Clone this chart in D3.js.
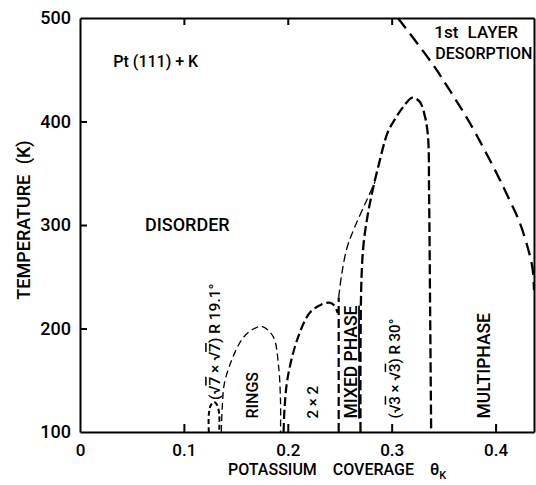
<!DOCTYPE html>
<html>
<head>
<meta charset="utf-8">
<script src="https://cdn.jsdelivr.net/npm/d3@7"></script>
<style>
  html, body { margin: 0; padding: 0; background: #fff; }
  svg { display: block; }
  text { font-family: Roboto, "Liberation Sans", sans-serif; font-weight: 500; fill: #000; }
</style>
</head>
<body>
<svg id="chart" width="536" height="485"></svg>
<script>
// Phase diagram of K on Pt(111): coverage on x, temperature on y.
const thetaTicks = [0, 0.1, 0.2, 0.3, 0.4];
const thetaTopTicks = [0.1, 0.2, 0.3];
const tempTicks = [100, 200, 300, 400, 500];

// (√7×√7)R19.1° pocket
const sqrt7Theta = [0.124, 0.124, 0.126, 0.129, 0.132, 0.134, 0.134];
const sqrt7T     = [100, 117, 126, 129, 126, 117, 100];

// Ring phase boundary (thin dashes)
const ringsTheta = [0.136, 0.137, 0.139, 0.147, 0.157, 0.166, 0.175, 0.186, 0.191, 0.193, 0.193];
const ringsT     = [100, 125, 147, 172, 191, 199, 202, 192, 165, 130, 100];

// 2×2 dome
const p2x2Theta = [0.196, 0.197, 0.200, 0.209, 0.221, 0.232, 0.240, 0.245, 0.248];
const p2x2T     = [100, 125, 153, 189, 215, 223, 225, 222, 215];

// Left edge of the mixed-phase region
const mixedLeftTheta = [0.249, 0.249];
const mixedLeftT     = [100, 230];

// Upper edge of the mixed-phase region (thin dashes)
const mixedTopTheta = [0.249, 0.252, 0.257, 0.264, 0.276, 0.284];
const mixedTopT     = [230, 253, 278, 297, 324, 342];

// (√3×√3)R30° dome, rising from the right edge of the mixed phase
const sqrt3Theta = [0.270, 0.270, 0.271, 0.273, 0.277, 0.282, 0.288, 0.296, 0.303, 0.311, 0.320, 0.327, 0.332, 0.335, 0.336, 0.337, 0.338];
const sqrt3T     = [100, 180, 250, 282, 310, 335, 360, 389, 402, 414, 423, 419, 405, 385, 330, 220, 100];

// First-layer desorption limit
const desorbTheta = [0.306, 0.339, 0.356, 0.375, 0.401, 0.4135, 0.423, 0.431, 0.4356, 0.437];
const desorbT     = [500, 456, 430, 399, 350, 324, 303, 278, 258, 237];

const width = 536, height = 485;
const xMin = 0, xMax = 0.437, yMin = 100, yMax = 500;

const svg = d3.select("#chart");
const x = d3.scaleLinear().domain([xMin, xMax]).range([80, 534]);
const y = d3.scaleLinear().domain([yMin, yMax]).range([432, 18]);

svg.append("rect").attr("width", width).attr("height", height).attr("fill", "#fff");

svg.append("defs").append("clipPath").attr("id", "plot-clip")
  .append("rect")
  .attr("x", x(xMin)).attr("y", y(yMax))
  .attr("width", x(xMax) - x(xMin)).attr("height", y(yMin) - y(yMax));

// Axes: ticks point into the plot
const axisStroke = g => {
  g.select(".domain").attr("stroke", "#000").attr("stroke-width", 2);
  g.selectAll(".tick line").attr("stroke", "#000").attr("stroke-width", 2);
  g.selectAll(".tick text").attr("fill", "#000");
};

svg.append("g")
  .attr("transform", `translate(0,${y(yMin)})`)
  .call(d3.axisBottom(x).tickValues(thetaTicks).tickSizeInner(-8).tickSizeOuter(0).tickPadding(12)
    .tickFormat(d => d === 0 ? "0" : d3.format(".1f")(d)))
  .call(axisStroke)
  .call(g => g.selectAll(".tick text").style("font-size", "17px").style("font-family", "Roboto, sans-serif").style("font-weight", 500))
  .call(g => g.selectAll(".tick").filter(d => d === 0).select("line").remove());

svg.append("g")
  .attr("transform", `translate(${x(xMin)},0)`)
  .call(d3.axisLeft(y).tickValues(tempTicks).tickSizeInner(-7).tickSizeOuter(0).tickPadding(9))
  .call(axisStroke)
  .call(g => g.selectAll(".tick text").style("font-size", "18px").style("font-family", "Roboto, sans-serif").style("font-weight", 500))
  .call(g => g.selectAll(".tick").filter(d => d === yMin || d === yMax).select("line").remove());

svg.append("g")
  .attr("transform", `translate(0,${y(yMax)})`)
  .call(d3.axisTop(x).tickValues(thetaTopTicks).tickSizeInner(-7).tickSizeOuter(0).tickFormat(""))
  .call(axisStroke);

svg.append("g")
  .attr("transform", `translate(${x(xMax)},0)`)
  .call(d3.axisRight(y).tickValues([]).tickSizeOuter(0))
  .call(axisStroke);

// Phase boundaries
const line = d3.line()
  .x(d => x(d[0]))
  .y(d => y(d[1]))
  .curve(d3.curveCatmullRom.alpha(0.5));

const boundaries = [
  { theta: sqrt7Theta,     T: sqrt7T,     w: 2.0, dash: "5,3" },
  { theta: ringsTheta,     T: ringsT,     w: 1.3, dash: "7,4" },
  { theta: p2x2Theta,      T: p2x2T,      w: 2.2, dash: "9,4" },
  { theta: mixedLeftTheta, T: mixedLeftT, w: 2.2, dash: "9,4" },
  { theta: mixedTopTheta,  T: mixedTopT,  w: 1.3, dash: "8,4" },
  { theta: sqrt3Theta,     T: sqrt3T,     w: 2.3, dash: "10,4" },
  { theta: desorbTheta,    T: desorbT,    w: 2.3, dash: "13,7" }
];

svg.append("g").attr("clip-path", "url(#plot-clip)")
  .selectAll("path")
  .data(boundaries)
  .join("path")
  .attr("d", b => line(d3.zip(b.theta, b.T)))
  .attr("fill", "none")
  .attr("stroke", "#000")
  .attr("stroke-width", b => b.w)
  .attr("stroke-dasharray", b => b.dash)
  .attr("stroke-linecap", "butt");

// Horizontal region labels (anchored at left edge, vertical centre of caps)
const hLabels = [
  { theta: 0.032, T: 458, text: "Pt (111) + K", size: 16 },
  { theta: 0.0625, T: 300, text: "DISORDER", size: 18 },
  { theta: 0.341, T: 487, text: "1st LAYER", size: 17, ws: 5 },
  { theta: 0.342, T: 466, text: "DESORPTION", size: 16 }
];
svg.append("g").selectAll("text")
  .data(hLabels)
  .join("text")
  .attr("x", d => x(d.theta))
  .attr("y", d => y(d.T))
  .attr("dy", "0.36em")
  .style("font-size", d => d.size + "px")
  .style("word-spacing", d => (d.ws || 0) + "px")
  .text(d => d.text);

// Vertical region labels, reading upward from their lower end
const vLabels = [
  { theta: 0.1295, T: 131, size: 15.5, parts: [["(√"], ["7", "o"], [" × √"], ["7", "o"], [") R 19.1°"]] },
  { theta: 0.1660, T: 113, size: 16, parts: [["RINGS"]] },
  { theta: 0.2236, T: 113, size: 15, parts: [["2 × 2"]] },
  { theta: 0.2607, T: 113, size: 17.5, parts: [["MIXED", "u"], [" "], ["PHASE", "u"]] },
  { theta: 0.3025, T: 113, size: 15, parts: [["(√"], ["3", "o"], [" × √"], ["3", "o"], [") R 30°"]] },
  { theta: 0.3890, T: 113, size: 17.5, parts: [["MULTIPHASE"]] }
];
const vText = svg.append("g").selectAll("text")
  .data(vLabels)
  .join("text")
  .attr("transform", d => `translate(${x(d.theta)},${y(d.T)}) rotate(-90)`)
  .attr("dy", "0.36em")
  .style("font-size", d => d.size + "px");
vText.selectAll("tspan")
  .data(d => d.parts)
  .join("tspan")
  .style("text-decoration", p => p[1] === "o" ? "overline" : p[1] === "u" ? "underline" : "none")
  .text(p => p[0]);

// Axis titles
const xTitle = svg.append("text")
  .attr("x", 228).attr("y", 475)
  .style("font-size", "16px")
  .style("word-spacing", "12px");
xTitle.append("tspan").text("POTASSIUM COVERAGE θ");
xTitle.append("tspan").attr("dy", 4).style("font-size", "11px").text("K");

svg.append("text")
  .attr("transform", "translate(24,220) rotate(-90)")
  .attr("text-anchor", "middle")
  .attr("dy", "0.36em")
  .style("font-size", "18px")
  .style("word-spacing", "6px")
  .text("TEMPERATURE (K)");
</script>
</body>
</html>
